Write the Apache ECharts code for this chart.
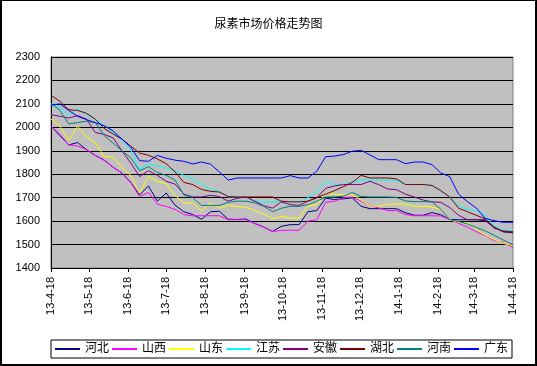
<!DOCTYPE html>
<html><head><meta charset="utf-8">
<script src="https://cdn.jsdelivr.net/npm/echarts@6/dist/echarts.min.js"></script>
<style>
html,body{margin:0;padding:0;background:#fff;}
#c{position:absolute;left:0;top:0;width:537px;height:366px;}
#frame{position:absolute;left:0;top:0;width:537px;height:366px;box-sizing:border-box;border-style:solid;border-color:#000;border-width:1px 2px 2px 2px;pointer-events:none;}
</style></head>
<body><div id="c"></div><div id="frame"></div>
<script>
var titleText = '尿素市场价格走势图';
var tickLabels = ['13-4-18','13-5-18','13-6-18','13-7-18','13-8-18','13-9-18','13-10-18','13-11-18','13-12-18','14-1-18','14-2-18','14-3-18','14-4-18'];
var dates = ['2013-04-18','2013-04-25','2013-05-02','2013-05-09','2013-05-16','2013-05-23','2013-05-30','2013-06-06','2013-06-13','2013-06-20',
'2013-06-27','2013-07-04','2013-07-11','2013-07-18','2013-07-25','2013-08-01','2013-08-08','2013-08-15','2013-08-22','2013-08-29',
'2013-09-05','2013-09-12','2013-09-19','2013-09-26','2013-10-03','2013-10-10','2013-10-17','2013-10-24','2013-10-31','2013-11-07',
'2013-11-14','2013-11-21','2013-11-28','2013-12-05','2013-12-12','2013-12-19','2013-12-26','2014-01-02','2014-01-09','2014-01-16',
'2014-01-23','2014-01-30','2014-02-06','2014-02-13','2014-02-20','2014-02-27','2014-03-06','2014-03-13','2014-03-20','2014-03-27',
'2014-04-03','2014-04-10','2014-04-18'];
var seriesNames = ['河北','山西','山东','江苏','安徽','湖北','河南','广东'];
var hebei = [2005,1965,1925,1935,1905,1880,1860,1830,1805,1765,1712,1750,1685,1720,1668,1640,1628,1608,1640,1642,1608,1607,1609,1590,1575,1556,1578,1585,1585,1640,1645,1698,1692,1695,1699,1663,1653,1653,1653,1653,1636,1625,1625,1636,1627,1607,1606,1606,1606,1602,1575,1555,1550];
var shanxi = [2006,1970,1925,1920,1905,1880,1860,1830,1805,1765,1705,1722,1672,1663,1650,1628,1622,1623,1623,1623,1606,1606,1606,1590,1575,1556,1560,1561,1561,1600,1606,1680,1685,1700,1702,1685,1667,1656,1645,1645,1628,1623,1623,1623,1622,1607,1590,1575,1555,1538,1518,1508,1488];
var shandong = [2035,2005,1945,2005,1960,1935,1875,1874,1830,1795,1720,1790,1770,1760,1710,1677,1677,1645,1678,1655,1667,1662,1659,1645,1630,1610,1620,1613,1613,1665,1670,1718,1715,1713,1713,1690,1665,1663,1672,1673,1673,1663,1663,1660,1650,1606,1595,1593,1565,1540,1522,1505,1497];
var jiangsu = [2097,2085,2050,2078,2055,2035,2008,1980,1945,1905,1820,1845,1835,1827,1815,1795,1780,1757,1737,1727,1703,1703,1703,1685,1682,1682,1682,1682,1682,1700,1725,1770,1756,1756,1766,1775,1775,1775,1775,1773,1756,1756,1756,1754,1728,1703,1665,1650,1645,1625,1578,1562,1560];
var anhui = [2054,2047,2040,2050,2035,1978,1970,1955,1900,1848,1790,1815,1795,1770,1758,1715,1703,1703,1710,1705,1685,1697,1703,1685,1666,1655,1682,1670,1667,1685,1700,1740,1750,1756,1756,1756,1770,1755,1737,1734,1715,1703,1690,1682,1680,1658,1625,1606,1606,1606,1570,1558,1555];
var hubei = [2137,2111,2075,2072,2060,2035,1995,1972,1950,1920,1890,1881,1865,1845,1810,1765,1756,1735,1727,1724,1705,1703,1703,1703,1703,1703,1685,1682,1682,1685,1700,1715,1730,1747,1765,1795,1784,1784,1784,1780,1756,1756,1756,1752,1730,1703,1655,1640,1625,1610,1575,1555,1552];
var henan = [2104,2072,2015,2020,2026,2020,1965,1933,1900,1870,1815,1832,1808,1795,1775,1712,1700,1667,1667,1667,1680,1685,1685,1678,1663,1640,1655,1663,1663,1670,1685,1702,1703,1706,1722,1705,1703,1703,1703,1701,1686,1683,1683,1682,1650,1607,1598,1588,1573,1558,1540,1520,1500];
var guangdong = [2095,2100,2072,2047,2033,2020,2007,1985,1950,1915,1858,1855,1880,1868,1860,1855,1844,1852,1843,1810,1775,1784,1784,1784,1784,1784,1784,1794,1784,1784,1813,1875,1877,1884,1898,1902,1882,1862,1862,1862,1845,1852,1852,1841,1805,1790,1715,1683,1656,1612,1602,1595,1595];
var colors = ['#000080','#FF00FF','#FFFF00','#00FFFF','#800080','#800000','#008080','#0000FF'];
var allValues = [hebei, shanxi, shandong, jiangsu, anhui, hubei, henan, guangdong];

var DAY = 86400000;
function dayIndex(y, m, d){ return Math.round((Date.UTC(y, m-1, d) - Date.UTC(2013, 3, 18)) / DAY); }
function labelToDay(lbl){ var p = lbl.split('-'); return dayIndex(2000 + +p[0], +p[1], +p[2]); }
function strToDay(s){ var p = s.split('-'); return dayIndex(+p[0], +p[1], +p[2]); }
var tickDays = tickLabels.map(labelToDay);
var labelMap = {};
tickDays.forEach(function(t,i){ labelMap[t] = tickLabels[i]; });

var FONT = '"Liberation Sans", "Noto Sans CJK SC", sans-serif';
var chart = echarts.init(document.getElementById('c'), null, {renderer:'canvas'});
var series = seriesNames.map(function(name, i){
  return {
    name: name, type: 'line', showSymbol: false, symbol: 'none',
    lineStyle: {color: colors[i], width: 1},
    itemStyle: {color: colors[i]},
    data: dates.map(function(d, j){ return [strToDay(d), allValues[i][j]]; }),
    animation: false
  };
});
chart.setOption({
  animation: false,
  backgroundColor: '#ffffff',
  title: {text: titleText, left: 'center', top: 14, textStyle: {fontSize: 12, fontWeight: 'normal', color: '#000', fontFamily: FONT}},
  grid: {left: 51, top: 57, right: 24, bottom: 98, show: true, backgroundColor: '#C0C0C0', borderColor: '#808080', borderWidth: 1},
  legend: {
    data: seriesNames, left: 51, top: 340, orient: 'horizontal',
    itemWidth: 25, itemHeight: 2, itemGap: 3, icon: 'rect',
    padding: [3, 4, 3, 4], borderColor: '#000', borderWidth: 1,
    textStyle: {fontSize: 12, color: '#000', fontFamily: FONT}
  },
  xAxis: {
    type: 'value', min: tickDays[0], max: tickDays[tickDays.length-1],
    axisLine: {show: true, onZero: false, lineStyle: {color: '#000', width: 1}},
    axisTick: {show: true, length: 4, lineStyle: {color: '#000'}, customValues: tickDays},
    axisLabel: {customValues: tickDays, rotate: 90, margin: 9, fontSize: 11, color: '#000', fontFamily: FONT,
      formatter: function(v){ return labelMap[v] || ''; }},
    splitLine: {show: false}
  },
  yAxis: {
    type: 'value', min: 1400, max: 2300, interval: 100,
    axisLine: {show: true, lineStyle: {color: '#000', width: 1}},
    axisTick: {show: false},
    axisLabel: {margin: 11, fontSize: 11, color: '#000', fontFamily: FONT,
      formatter: function(v){ return String(v); }},
    splitLine: {show: true, lineStyle: {color: '#000', width: 1}}
  },
  series: series
});
</script>
</body></html>
